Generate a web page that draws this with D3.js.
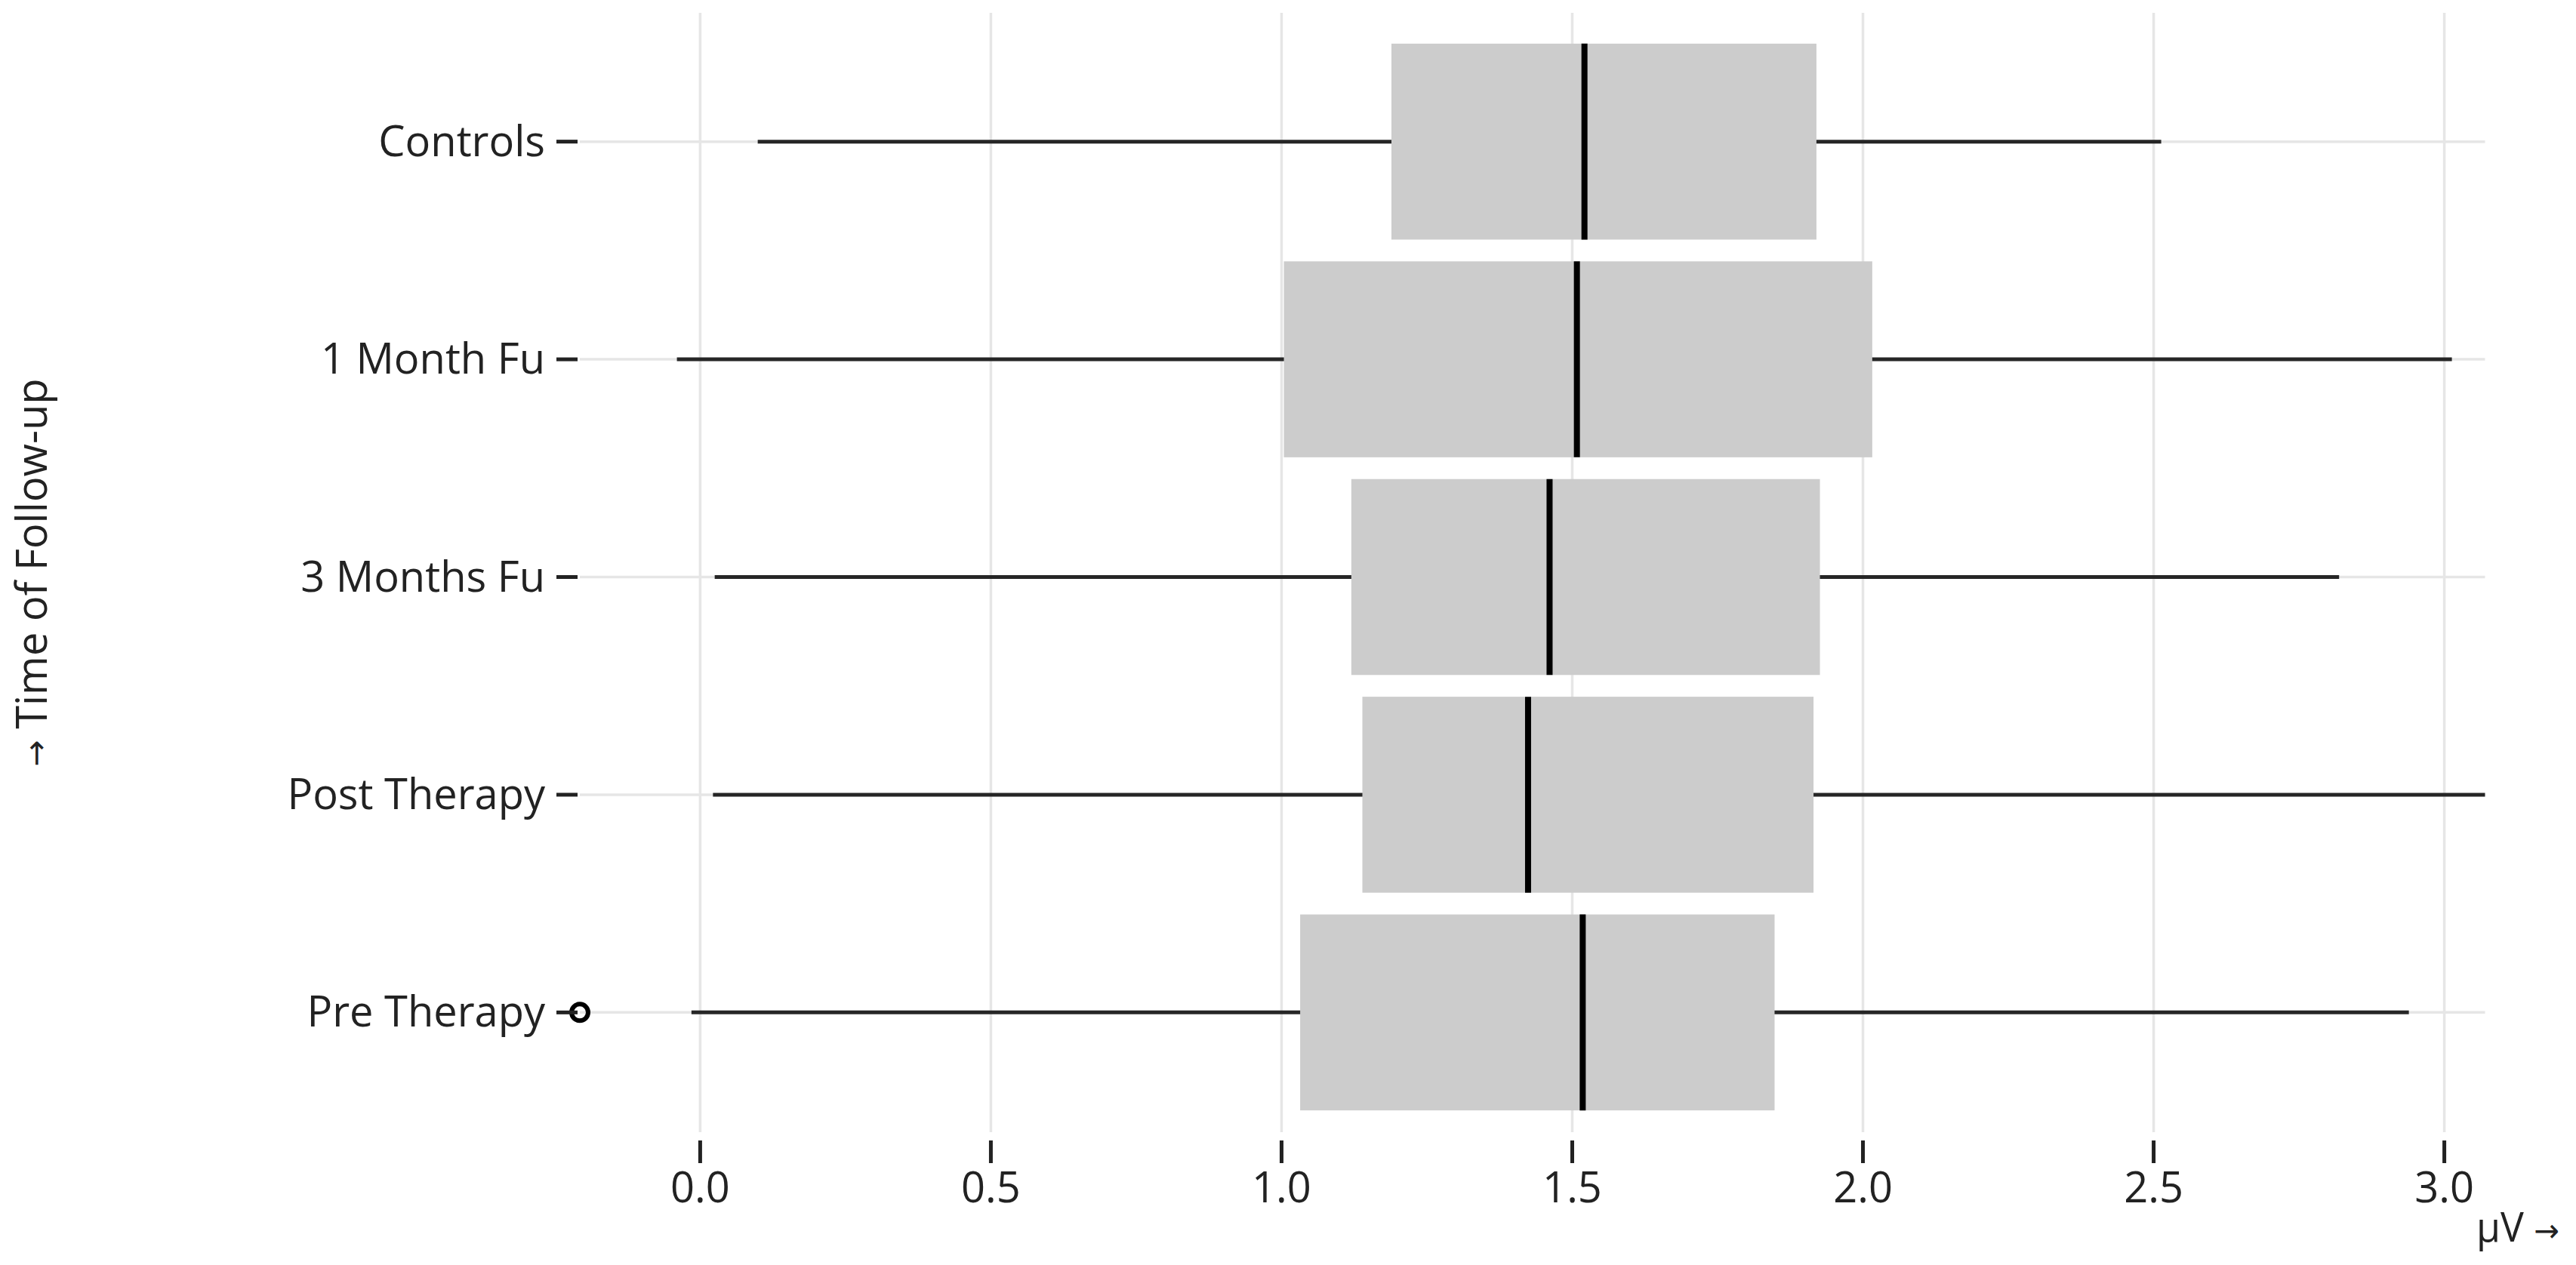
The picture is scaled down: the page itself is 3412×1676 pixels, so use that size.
<!DOCTYPE html>
<html>
<head>
<meta charset="utf-8">
<script src="https://cdn.jsdelivr.net/npm/d3@7"></script>
<style>
  html, body { margin: 0; padding: 0; background: #fff; }
  svg { display: block; font-family: "Open Sans", "Noto Sans", sans-serif; }
</style>
</head>
<body>
<svg id="chart" width="3412" height="1676"></svg>
<script>
// ---- data ----
const categories  = ["Controls", "1 Month Fu", "3 Months Fu", "Post Therapy", "Pre Therapy"];
const whiskerLow  = [0.099, -0.040, 0.025, 0.022, -0.015];
const q1          = [1.189, 1.004, 1.120, 1.139, 1.032];
const median      = [1.521, 1.508, 1.461, 1.424, 1.518];
const q3          = [1.920, 2.016, 1.926, 1.915, 1.848];
const whiskerHigh = [2.513, 3.013, 2.819, 3.070, 2.939];
const outliers    = [[], [], [], [], [-0.207]];
const xTicks      = [0, 0.5, 1, 1.5, 2, 2.5, 3];
const xLabelText = "μV";
const yLabelText = "Time of Follow-up";
const arrow = "→";

// ---- layout ----
const W = 3412, H = 1676;
const left = 768, right = 3291.5, gridTop = 17, bottom = 1500;
const fontSize = 56;

const svg = d3.select("#chart");

const allVals = whiskerLow.concat(whiskerHigh, outliers.flat());
const x = d3.scaleLinear().domain(d3.extent(allVals)).range([left, right]);
const y = d3.scaleBand().domain(categories).range([29, bottom]).padding(0.1);

const rows = categories.map((c, i) => ({
  cat: c, lo: whiskerLow[i], q1: q1[i], med: median[i], q3: q3[i], hi: whiskerHigh[i], out: outliers[i]
}));

// grid
const grid = svg.append("g");
grid.selectAll("line.gx").data(xTicks).join("line")
  .attr("x1", d => x(d)).attr("x2", d => x(d))
  .attr("y1", gridTop).attr("y2", bottom)
  .attr("stroke", "#e6e6e6").attr("stroke-width", 3.5);
grid.selectAll("line.gy").data(categories).join("line")
  .attr("x1", left).attr("x2", right)
  .attr("y1", d => y(d) + y.bandwidth() / 2).attr("y2", d => y(d) + y.bandwidth() / 2)
  .attr("stroke", "#e6e6e6").attr("stroke-width", 3.5);

// whiskers
svg.append("g").selectAll("line").data(rows).join("line")
  .attr("x1", d => x(d.lo)).attr("x2", d => x(d.hi))
  .attr("y1", d => y(d.cat) + y.bandwidth() / 2).attr("y2", d => y(d.cat) + y.bandwidth() / 2)
  .attr("stroke", "#262626").attr("stroke-width", 5);

// boxes
svg.append("g").selectAll("rect").data(rows).join("rect")
  .attr("x", d => x(d.q1)).attr("width", d => x(d.q3) - x(d.q1))
  .attr("y", d => y(d.cat)).attr("height", y.bandwidth())
  .attr("fill", "#cccccc");

// medians
svg.append("g").selectAll("line").data(rows).join("line")
  .attr("x1", d => x(d.med)).attr("x2", d => x(d.med))
  .attr("y1", d => y(d.cat)).attr("y2", d => y(d.cat) + y.bandwidth())
  .attr("stroke", "#000").attr("stroke-width", 8);

// outliers
svg.append("g").selectAll("circle")
  .data(rows.flatMap(r => r.out.map(v => ({cat: r.cat, v}))))
  .join("circle")
  .attr("cx", d => x(d.v)).attr("cy", d => y(d.cat) + y.bandwidth() / 2)
  .attr("r", 11).attr("fill", "none").attr("stroke", "#000").attr("stroke-width", 6);

// y axis ticks + labels
const yAxis = svg.append("g");
yAxis.selectAll("line").data(categories).join("line")
  .attr("x1", 737).attr("x2", 765)
  .attr("y1", d => y(d) + y.bandwidth() / 2).attr("y2", d => y(d) + y.bandwidth() / 2)
  .attr("stroke", "#222").attr("stroke-width", 5);
yAxis.selectAll("text").data(categories).join("text")
  .attr("x", 722).attr("y", d => y(d) + y.bandwidth() / 2)
  .attr("dy", "0.34em")
  .attr("text-anchor", "end")
  .attr("font-size", fontSize).attr("fill", "#222")
  .text(d => d);

// x axis ticks + labels
const xAxis = svg.append("g");
xAxis.selectAll("line").data(xTicks).join("line")
  .attr("x1", d => x(d)).attr("x2", d => x(d))
  .attr("y1", 1511).attr("y2", 1541)
  .attr("stroke", "#222").attr("stroke-width", 5);
xAxis.selectAll("text").data(xTicks).join("text")
  .attr("x", d => x(d)).attr("y", 1593)
  .attr("text-anchor", "middle")
  .attr("font-size", fontSize).attr("fill", "#222")
  .text(d => d3.format(".1f")(d));

// axis labels
const xl = svg.append("text")
  .attr("x", 3390).attr("y", 1645)
  .attr("text-anchor", "end")
  .attr("font-size", 54).attr("fill", "#222")
  .attr("textLength", 110).attr("lengthAdjust", "spacingAndGlyphs");
xl.append("tspan").text(xLabelText + " ");
xl.append("tspan").attr("font-family", "DejaVu Sans").attr("font-size", 42).text(arrow);

const yl = svg.append("text")
  .attr("transform", `translate(62, ${(gridTop + bottom) / 2}) rotate(-90)`)
  .attr("text-anchor", "middle")
  .attr("font-size", fontSize).attr("fill", "#222");
yl.append("tspan").attr("font-family", "DejaVu Sans").attr("font-size", 42).text(arrow);
yl.append("tspan").text(" " + yLabelText);
</script>
</body>
</html>
